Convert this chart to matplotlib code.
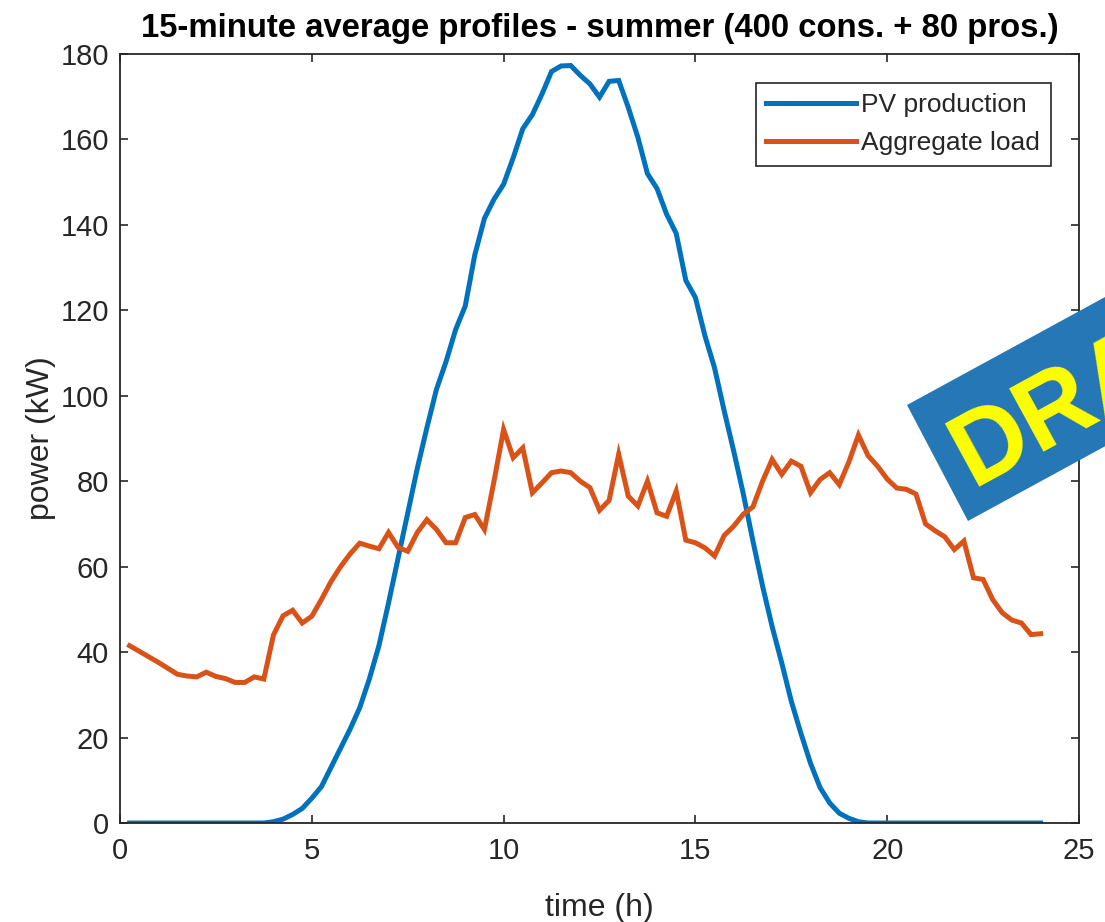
import numpy as np
import matplotlib
matplotlib.use("Agg")
import matplotlib.pyplot as plt
from matplotlib.patches import Polygon

# ---- data (15-minute resolution, t = 0.25 ... 24 h) ----
time_h = np.arange(1, 97) * 0.25

pv_production = [
    0, 0, 0, 0, 0, 0, 0, 0, 0, 0, 0, 0, 0, 0, 0,          # 0.25 - 3.75
    0.3, 0.9, 2.0, 3.4, 5.8, 8.5, 13.0, 17.5, 22.0,       # 4.0 - 6.0
    27.0, 33.7, 41.5, 51.5, 62.0, 72.5, 83.0, 92.5,       # 6.25 - 8.0
    101.5, 108.0, 115.5, 121.0, 133.0, 141.5, 146.0,      # 8.25 - 9.75
    149.5, 155.7, 162.5, 165.8, 170.6, 175.9, 177.2,      # 10.0 - 11.5
    177.3, 175.0, 173.0, 169.9, 173.6, 173.8, 167.5,      # 11.75 - 13.25
    160.5, 152.0, 148.5, 142.5, 138.0, 127.0, 123.0,      # 13.5 - 15.0
    114.0, 106.5, 96.5, 87.0, 77.0, 66.0, 55.5, 46.0,     # 15.25 - 17.0
    37.5, 28.5, 21.0, 14.0, 8.3, 4.7, 2.3, 1.1, 0.3,      # 17.25 - 19.25
    0, 0, 0, 0, 0, 0, 0, 0, 0, 0, 0, 0, 0, 0, 0, 0, 0, 0, 0,  # 19.5 - 24.0
]

aggregate_load = [
    41.5, 40.2, 38.9, 37.6, 36.2, 34.8, 34.4, 34.2,       # 0.25 - 2.0
    35.3, 34.3, 33.8, 32.9, 32.9, 34.2, 33.7, 44.0,       # 2.25 - 4.0
    48.5, 49.8, 46.8, 48.4, 52.3, 56.5, 60.0, 63.0,       # 4.25 - 6.0
    65.5, 64.8, 64.2, 68.0, 64.5, 63.6, 68.0, 71.0,       # 6.25 - 8.0
    68.7, 65.6, 65.6, 71.5, 72.2, 68.7, 80.0, 92.1,       # 8.25 - 10.0
    85.5, 87.8, 77.3, 79.6, 82.0, 82.4, 82.0, 80.0,       # 10.25 - 12.0
    78.5, 73.2, 75.5, 86.3, 76.5, 74.2, 80.0, 72.6,       # 12.25 - 14.0
    71.8, 77.7, 66.2, 65.6, 64.4, 62.5, 67.3, 69.5,       # 14.25 - 16.0
    72.3, 74.0, 80.0, 85.1, 81.6, 84.7, 83.5, 77.3,       # 16.25 - 18.0
    80.4, 82.0, 79.2, 84.5, 90.8, 86.0, 83.5, 80.5,       # 18.25 - 20.0
    78.4, 78.1, 77.0, 70.0, 68.4, 67.0, 64.0, 66.0,       # 20.25 - 22.0
    57.4, 57.0, 52.3, 49.2, 47.5, 46.8, 44.1, 44.3,       # 22.25 - 24.0
]

series_labels = ["PV production", "Aggregate load"]
x_ticks = [0, 5, 10, 15, 20, 25]
y_ticks = [0, 20, 40, 60, 80, 100, 120, 140, 160, 180]

# ---- style ----
FONT = "Liberation Sans"
plt.rcParams["font.family"] = [FONT, "DejaVu Sans"]
AX_COLOR = "#262626"
BLUE = "#0072BD"
ORANGE = "#D95319"

W, H = 1105, 922
fig = plt.figure(figsize=(W / 100, H / 100), dpi=100)
ax = fig.add_axes([120 / W, 1 - 823 / H, (1079 - 120) / W, (823 - 54) / H])

ax.plot(time_h, pv_production, color=BLUE, lw=3.6, label=series_labels[0],
        solid_joinstyle="miter")
ax.plot(time_h, aggregate_load, color=ORANGE, lw=3.6, label=series_labels[1],
        solid_joinstyle="miter")

ax.set_xlim(0, 25)
ax.set_ylim(0, 180)
ax.set_xticks(x_ticks)
ax.set_yticks(y_ticks)

for sp in ax.spines.values():
    sp.set_color(AX_COLOR)
    sp.set_linewidth(1.3)
ax.tick_params(direction="in", length=6, width=1.2, colors=AX_COLOR,
               labelsize=21, top=True, right=True)
ax.tick_params(axis="x", pad=10)
ax.tick_params(axis="y", pad=8)

ax.set_xlabel("time (h)", fontsize=23, color=AX_COLOR, labelpad=20)
ax.set_ylabel("power (kW)", fontsize=23, color=AX_COLOR, labelpad=3)
ax.set_title("15-minute average profiles - summer (400 cons. + 80 pros.)",
             fontsize=23.7, fontweight="bold", color="black", pad=12)

leg = ax.legend(loc="upper right", fontsize=19, frameon=True, fancybox=False,
                edgecolor=AX_COLOR, framealpha=1, handlelength=3.4,
                handletextpad=0.2, labelspacing=0.54, borderpad=0.4,
                borderaxespad=1.08)
leg.get_frame().set_linewidth(1.2)
for t in leg.get_texts():
    t.set_color(AX_COLOR)

# ---- DRAFT watermark (rotated band, clipped by the figure edge) ----
ang = np.deg2rad(28.6)
u = np.array([np.cos(ang), -np.sin(ang)])
tl = np.array([907.0, 405.0])
bl = np.array([968.0, 521.0])
tr = tl + 500 * u
br = bl + 500 * u
pts = np.array([tl, tr, br, bl])
pts_fig = np.column_stack([pts[:, 0] / W, 1 - pts[:, 1] / H])
fig.patches.append(Polygon(pts_fig, closed=True, transform=fig.transFigure,
                           facecolor="#2577B5", edgecolor="none", zorder=10))
anchor = np.array([972.0, 487.0])
fig.text(anchor[0] / W, 1 - anchor[1] / H, "DRAFT", rotation=28.6,
         rotation_mode="anchor", ha="left", va="baseline", fontsize=74,
         fontweight="bold", color="#FFFF00", zorder=11)

fig.savefig("out.png", dpi=100)
